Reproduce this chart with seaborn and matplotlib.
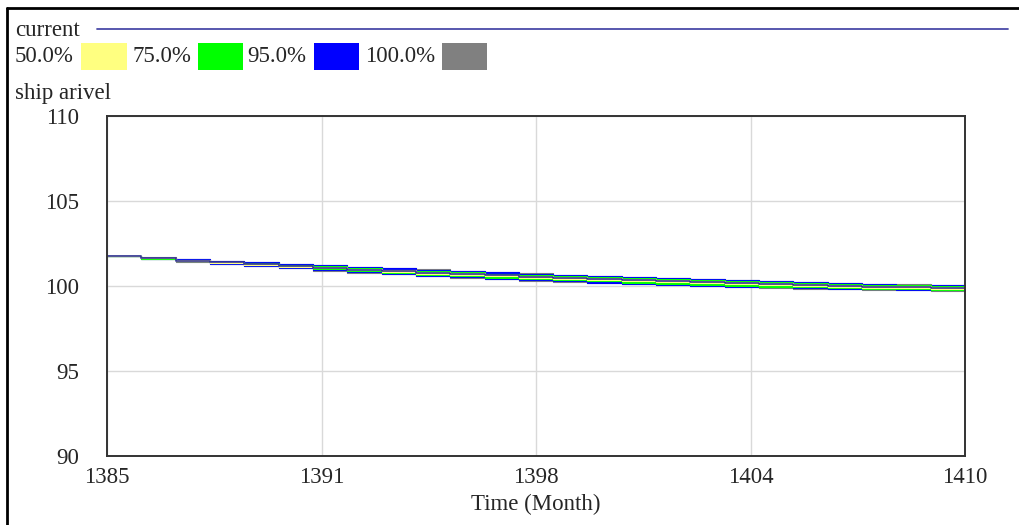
import numpy as np
import pandas as pd
import matplotlib
matplotlib.use("Agg")
import matplotlib.pyplot as plt
from matplotlib.patches import Rectangle
from matplotlib.lines import Line2D
import seaborn as sns

# ---------------- data ----------------
years = [1385, 1386, 1387, 1388, 1389, 1390, 1391, 1392, 1393, 1394, 1395, 1396, 1397,
         1398, 1399, 1400, 1401, 1402, 1403, 1404, 1405, 1406, 1407, 1408, 1409, 1410]

current = [101.75, 101.62, 101.50, 101.39, 101.28, 101.17, 101.06, 100.96, 100.87, 100.78,
           100.70, 100.62, 100.54, 100.47, 100.40, 100.34, 100.28, 100.22, 100.16, 100.10,
           100.05, 100.00, 99.96, 99.92, 99.88, 99.84]

upper_100 = [101.75, 101.68, 101.58, 101.50, 101.42, 101.32, 101.24, 101.14, 101.06, 100.98,
             100.90, 100.82, 100.74, 100.66, 100.60, 100.54, 100.48, 100.42, 100.36, 100.30,
             100.24, 100.19, 100.14, 100.10, 100.05, 100.00]
lower_100 = [101.75, 101.58, 101.44, 101.30, 101.16, 101.03, 100.90, 100.78, 100.68, 100.58,
             100.49, 100.40, 100.32, 100.25, 100.18, 100.12, 100.06, 100.00, 99.95, 99.90,
             99.85, 99.81, 99.78, 99.75, 99.73, 99.72]

upper_95 = [101.75, 101.66, 101.56, 101.48, 101.40, 101.30, 101.22, 101.12, 101.04, 100.96,
            100.88, 100.80, 100.72, 100.64, 100.58, 100.52, 100.46, 100.40, 100.34, 100.28,
            100.22, 100.17, 100.12, 100.08, 100.03, 99.98]
lower_95 = [101.75, 101.60, 101.46, 101.32, 101.18, 101.05, 100.92, 100.80, 100.70, 100.60,
            100.51, 100.42, 100.34, 100.27, 100.20, 100.14, 100.08, 100.02, 99.97, 99.92,
            99.87, 99.83, 99.80, 99.77, 99.75, 99.74]

upper_75 = [101.75, 101.64, 101.53, 101.44, 101.35, 101.24, 101.15, 101.05, 100.97, 100.89,
            100.81, 100.73, 100.65, 100.58, 100.52, 100.46, 100.40, 100.34, 100.28, 100.22,
            100.16, 100.12, 100.07, 100.03, 99.99, 99.94]
lower_75 = [101.75, 101.61, 101.48, 101.35, 101.22, 101.10, 100.98, 100.87, 100.77, 100.67,
            100.58, 100.49, 100.41, 100.34, 100.27, 100.20, 100.14, 100.08, 100.02, 99.97,
            99.92, 99.88, 99.84, 99.81, 99.79, 99.77]

upper_50 = [101.75, 101.63, 101.51, 101.41, 101.31, 101.20, 101.10, 101.00, 100.92, 100.83,
            100.75, 100.67, 100.59, 100.52, 100.46, 100.40, 100.34, 100.28, 100.22, 100.16,
            100.11, 100.06, 100.02, 99.98, 99.94, 99.90]
lower_50 = [101.75, 101.62, 101.49, 101.37, 101.26, 101.14, 101.03, 100.92, 100.82, 100.73,
            100.64, 100.56, 100.48, 100.41, 100.34, 100.27, 100.21, 100.15, 100.09, 100.04,
            99.99, 99.94, 99.90, 99.87, 99.84, 99.81]

band_labels = ["50.0%", "75.0%", "95.0%", "100.0%"]
band_colors = ["#FFFF80", "#00FF00", "#0000FF", "#808080"]
x_tick_labels = ["1385", "1391", "1398", "1404", "1410"]
y_ticks = [90, 95, 100, 105, 110]

# ---------------- style ----------------
sns.set_style("white")
plt.rcParams["font.family"] = ["Liberation Serif", "DejaVu Serif"]
FS = 16.5

fig = plt.figure(figsize=(10.2, 5.25), dpi=100)
W, H = 1020, 525
ax = fig.add_axes([107 / W, 1 - 456 / H, (965 - 107) / W, (456 - 116) / H])

df = pd.DataFrame({"Time": years, "current": current})

# bands (outer to inner)
bands = [(lower_100, upper_100, band_colors[3]),
         (lower_95, upper_95, band_colors[2]),
         (lower_75, upper_75, band_colors[1]),
         (lower_50, upper_50, band_colors[0])]
for lo, hi, c in bands:
    ax.fill_between(years, lo, hi, step="post", color=c, linewidth=0.8, edgecolor=c)

sns.lineplot(data=df, x="Time", y="current", ax=ax, color="#333399", linewidth=1.2,
             drawstyle="steps-post", legend=False)

ax.set_xlim(1385, 1410)
ax.set_ylim(90, 110)
ax.set_xticks(np.linspace(1385, 1410, 5))
ax.set_xticklabels(x_tick_labels, fontsize=FS)
ax.set_yticks(y_ticks)
ax.set_yticklabels([str(v) for v in y_ticks], fontsize=FS)
ax.tick_params(axis="both", length=0)
ax.tick_params(axis="x", pad=8)
ax.tick_params(axis="y", pad=20)
ax.grid(True, color="#d9d9d9", linewidth=1.0)
ax.set_axisbelow(True)
for s in ax.spines.values():
    s.set_color("#333333")
    s.set_linewidth(1.4)
ax.set_xlabel("Time (Month)", fontsize=FS, labelpad=4)
ax.set_ylabel("")

# ---------------- header / legend ----------------
def fy(y):
    return 1 - y / H

fig.text(15 / W, fy(31), "current", fontsize=FS, va="center", ha="left")
fig.add_artist(Line2D([97 / W, 1008 / W], [fy(29), fy(29)], color="#4a4aa8", linewidth=1.3))

label_x = [15, 132, 247, 365]
swatch_x = [(81, 127), (198, 243), (314, 359), (442, 487)]
for lab, lx, (x0, x1), c in zip(band_labels, label_x, swatch_x, band_colors):
    fig.text(lx / W, fy(57), lab, fontsize=FS, va="center", ha="left")
    fig.add_artist(Rectangle((x0 / W, fy(70)), (x1 - x0) / W, 27 / H,
                             facecolor=c, edgecolor="none", transform=fig.transFigure))

fig.text(15 / W, fy(93), "ship arivel", fontsize=FS, va="center", ha="left")

# outer frame (top and left only, as in the cropped screenshot)
fig.add_artist(Line2D([7 / W, 1.0], [fy(8), fy(8)], color="black", linewidth=2))
fig.add_artist(Line2D([7 / W, 7 / W], [fy(8), 0], color="black", linewidth=2))

fig.savefig("out.png", dpi=100)
